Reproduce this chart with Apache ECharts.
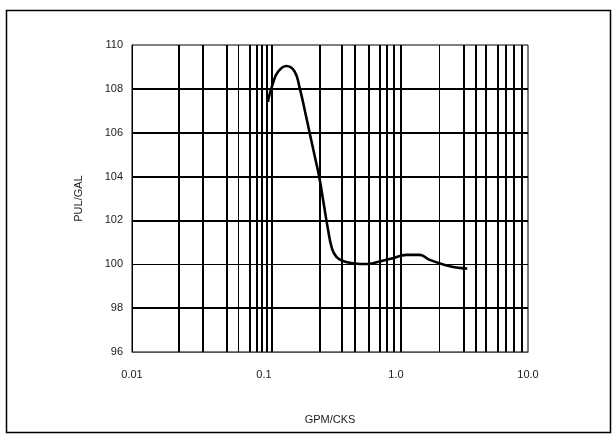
<!DOCTYPE html>
<html>
<head>
<meta charset="utf-8">
<script src="https://cdn.jsdelivr.net/npm/echarts@6/dist/echarts.min.js"></script>
<style>
html,body{margin:0;padding:0;background:#fff;}
#chart{width:616px;height:440px;}
</style>
</head>
<body>
<div id="chart"></div>
<script>
// Curve: [GPM/CKS, PUL/GAL]
const flowValues = [0.1075, 0.1080, 0.1170, 0.1277, 0.1478, 0.1709, 0.1865, 0.2034, 0.2220, 0.2421, 0.2619, 0.2834, 0.3039, 0.3275, 0.3535, 0.3967, 0.4722, 0.5970, 0.7524, 0.9490, 1.199, 1.512, 1.800, 2.477, 2.868, 3.462];
const pulValues  = [107.40, 107.53, 108.26, 108.78, 109.04, 108.78, 108.03, 107.04, 105.98, 104.94, 103.99, 102.76, 101.66, 100.71, 100.34, 100.15, 100.05, 100.01, 100.13, 100.28, 100.43, 100.43, 100.20, 99.93, 99.85, 99.80];

// Vertical grid lines as drawn in the picture (x values)
const gridX = [0.0226, 0.0345, 0.0519, 0.0640, 0.0779, 0.0876, 0.0960, 0.1054, 0.1143,
               0.2642, 0.3899, 0.4865, 0.6212, 0.7524, 0.8502, 0.9607, 1.0854,
               2.144, 3.275, 3.996, 4.780, 5.926, 6.779, 7.792, 8.962];
const thinGridX = [0.0640, 2.144];
// Horizontal grid lines
const gridY = [98, 100, 102, 104, 106, 108];
const thinGridY = [100];

const xTickValues = [0.01, 0.1, 1, 10];
const xTickLabels = ['0.01', '0.1', '1.0', '10.0'];
const yTickValues = [96, 98, 100, 102, 104, 106, 108, 110];

const xName = 'GPM/CKS';
const yName = 'PUL/GAL';

const chart = echarts.init(document.getElementById('chart'), null, {renderer: 'canvas'});

const font = 'Liberation Sans, Arial, sans-serif';
const textColor = '#222';

const vLines = gridX.map(v => ({
  xAxis: v,
  lineStyle: {width: thinGridX.includes(v) ? 1 : 2, color: '#000', type: 'solid'}
}));
const hLines = gridY.map(v => ({
  yAxis: v,
  lineStyle: {width: thinGridY.includes(v) ? 1 : 2, color: '#000', type: 'solid'}
}));

chart.setOption({
  animation: false,
  backgroundColor: '#fff',
  graphic: [{
    type: 'rect',
    shape: {x: 6.5, y: 10.5, width: 604, height: 422},
    style: {fill: 'none', stroke: '#000', lineWidth: 1.5},
    silent: true, z: -10
  }],
  grid: {
    left: 132, right: 88, top: 45, bottom: 88,
    show: true, borderColor: '#000', borderWidth: 1, backgroundColor: 'transparent'
  },
  xAxis: {
    type: 'log', logBase: 10, min: xTickValues[0], max: xTickValues[xTickValues.length - 1],
    name: xName, nameLocation: 'middle', nameGap: 62,
    nameTextStyle: {fontFamily: font, fontSize: 11, color: textColor},
    axisLine: {show: true, lineStyle: {color: '#555', width: 1}},
    axisTick: {show: false},
    splitLine: {show: false},
    minorTick: {show: false},
    axisLabel: {
      margin: 17, fontFamily: font, fontSize: 11, color: textColor,
      formatter: function (v) {
        for (let i = 0; i < xTickValues.length; i++) {
          if (Math.abs(Math.log10(v) - Math.log10(xTickValues[i])) < 1e-6) return xTickLabels[i];
        }
        return '';
      }
    }
  },
  yAxis: {
    type: 'value', min: yTickValues[0], max: yTickValues[yTickValues.length - 1], interval: 2,
    name: yName, nameLocation: 'middle', nameGap: 48,
    nameTextStyle: {fontFamily: font, fontSize: 11, color: textColor},
    axisLine: {show: true, lineStyle: {color: '#000', width: 1}},
    axisTick: {show: false},
    splitLine: {show: false},
    axisLabel: {margin: 9, fontFamily: font, fontSize: 11, color: textColor}
  },
  series: [
    {
      type: 'line', data: [], z: 1, silent: true,
      markLine: {
        silent: true, symbol: 'none', animation: false, precision: 6,
        label: {show: false},
        data: vLines.concat(hLines)
      }
    },
    {
      type: 'line', z: 5, silent: true,
      data: flowValues.map((x, i) => [x, pulValues[i]]),
      smooth: 0.45, showSymbol: false, symbol: 'none',
      lineStyle: {color: '#000', width: 2.6}
    }
  ]
});
</script>
</body>
</html>
